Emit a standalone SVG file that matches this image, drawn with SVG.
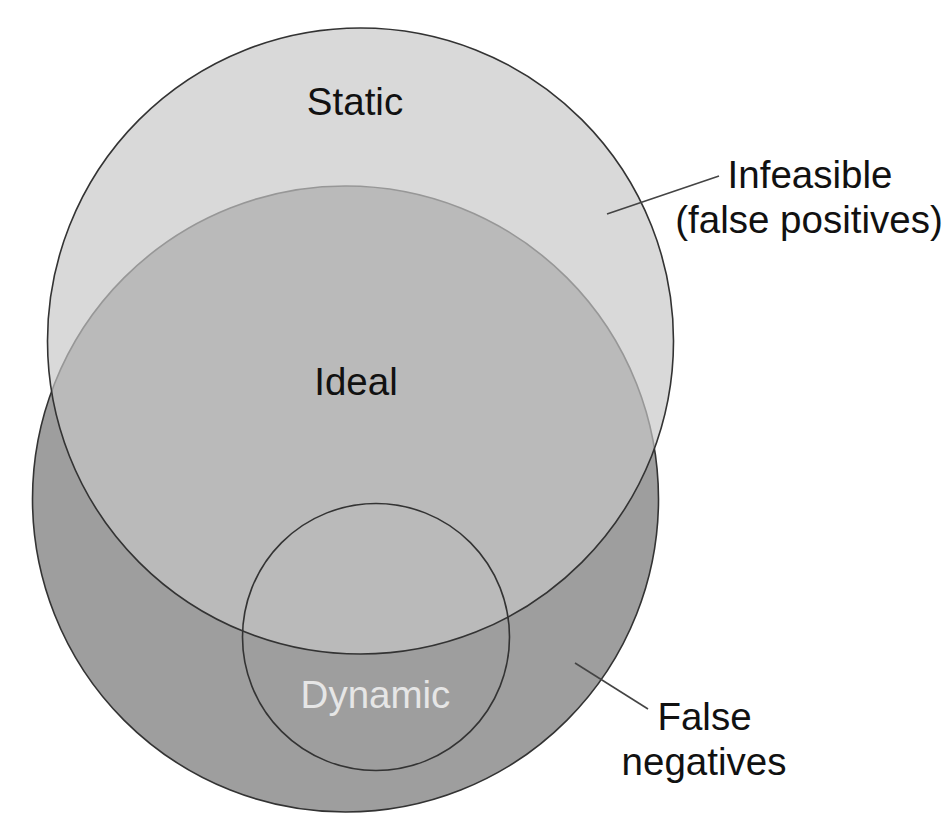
<svg xmlns="http://www.w3.org/2000/svg" width="944" height="813" viewBox="0 0 944 813">
  <style>
    .lbl { font-family: "Liberation Sans", Arial, sans-serif; font-size: 38.5px; fill: #111; text-anchor: middle; }
    .edge { stroke: #333; stroke-width: 1.6; }
    .lead { stroke: #444; stroke-width: 1.6; fill: none; }
  </style>
  <rect width="944" height="813" fill="#ffffff"/>
  <g id="ideal">
    <circle cx="345.5" cy="499" r="313" fill="#9e9e9e" class="edge"/>
  </g>
  <g id="static">
    <circle cx="360.5" cy="341" r="313" fill="#c7c7c7" fill-opacity="0.68" class="edge"/>
    <text class="lbl" x="355" y="115">Static</text>
  </g>
  <g id="ideal-label">
    <text class="lbl" x="356" y="395">Ideal</text>
  </g>
  <g id="dynamic">
    <circle cx="376" cy="637" r="133.5" fill="none" class="edge"/>
    <text class="lbl" x="375.5" y="708" style="fill:#e6e6e6">Dynamic</text>
  </g>
  <g id="infeasible">
    <text class="lbl" x="810" y="188">Infeasible</text>
    <text class="lbl" x="809" y="233">(false positives)</text>
  </g>
  <g id="false-negatives">
    <text class="lbl" x="704.5" y="730">False</text>
    <text class="lbl" x="704" y="775">negatives</text>
  </g>
  <g id="connectors">
    <line class="lead" x1="607" y1="214" x2="719" y2="176"/>
    <line class="lead" x1="575" y1="663" x2="648" y2="709"/>
  </g>
</svg>
